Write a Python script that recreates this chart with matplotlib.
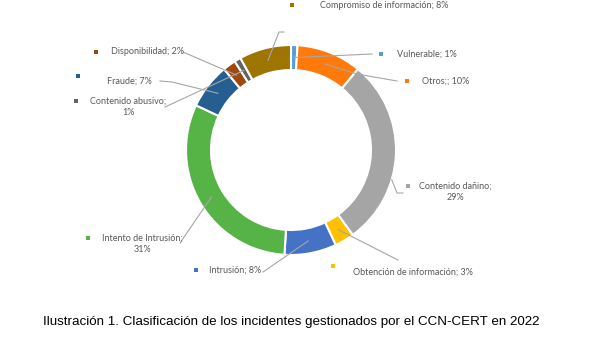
import numpy as np
import matplotlib
matplotlib.use("Agg")
import matplotlib.pyplot as plt

categories = ["Vulnerable", "Otros;", "Contenido dañino", "Obtención de información",
              "Intrusión", "Intento de Intrusión", "Fraude", "Disponibilidad",
              "Contenido abusivo", "Compromiso de información"]
values = [1, 10, 29, 3, 8, 31, 7, 2, 1, 8]
colors = ["#5B9BD5", "#FF7A0A", "#A5A5A5", "#FFC000", "#4472C4",
          "#56B447", "#255E91", "#9E480E", "#636363", "#9E7500"]
title = "Ilustración 1. Clasificación de los incidentes gestionados por el CCN-CERT en 2022"

W, H = 603, 339
fig = plt.figure(figsize=(W / 100, H / 100), dpi=100)
ax = fig.add_axes([0, 0, 1, 1])

cx, cy = 291, H - 150
R, ring = 105, 25
ax.pie(values, colors=colors, startangle=90, counterclock=False,
       center=(cx, cy), radius=R, frame=True,
       wedgeprops=dict(width=ring, edgecolor="white", linewidth=1.5))
ax.set_xlim(0, W)
ax.set_ylim(0, H)
ax.set_aspect("equal")
ax.axis("off")

total = float(sum(values))
starts = np.concatenate([[0], np.cumsum(values)[:-1]])


def anchor(i, frac=0.5, r=R - ring / 2):
    pos = (starts[i] + frac * values[i]) / total
    ang = np.deg2rad(90 - 360 * pos)
    return cx + r * np.cos(ang), cy + r * np.sin(ang)


label_color = "#595959"
lead_color = "#A6A6A6"
fs = 6.5
fam = ["Lato", "DejaVu Sans"]

# label layout: (index, marker x, marker y, text x, text y, ha, two_lines, leader bends, anchor frac, anchor r)
layout = [
    (9, 292, 5, 320, 5, "left", False, [(284, 32), (279, 32)], 0.5, None),
    (0, 381, 54, 397, 54, "left", False, [(372, 54)], 0.5, None),
    (1, 407, 81, 422, 81, "left", False, [(397, 81), (357, 74)], 0.5, None),
    (2, 408, 186, 455, 192, "center", True, [(403, 193), (397, 193)], 0.64, R),
    (3, 333, 266, 353, 272, "left", False, [(398, 260)], 0.5, None),
    (4, 196, 270, 209, 270, "left", False, [(263, 272)], 0.5, None),
    (5, 88, 238, 142, 244, "center", True, [(180, 243)], 0.5, None),
    (6, 78, 76, 107, 81, "left", False, [(160, 81), (172, 82)], 0.5, None),
    (8, 76, 101, 128, 107, "center", True, [(165, 107)], 0.5, None),
    (7, 96, 52, 111, 52, "left", False, [(183, 52)], 0.5, None),
]

for idx, mx, my, tx, ty, ha, two, bends, frac, rr in layout:
    ax_, ay_ = anchor(idx, frac) if rr is None else anchor(idx, frac, rr)
    pts = [(x, H - y) for x, y in bends] + [(ax_, ay_)]
    xs, ys = zip(*pts)
    ax.plot(xs, ys, color=lead_color, lw=0.8, zorder=3)
    ax.scatter([mx], [H - my], marker="s", s=9, color=colors[idx], zorder=4, linewidths=0)
    sep = "\n" if two else " "
    lab = f"{categories[idx]};{sep}{values[idx]}%"
    ax.text(tx, H - ty, lab, ha=ha, va="center", fontsize=fs, color=label_color,
            family=fam, linespacing=1.35, zorder=5)

ax.text(291, H - 322, title, ha="center", va="center", fontsize=9.6,
        family=["Liberation Sans", "DejaVu Sans"], color="black")

fig.savefig("out.png", dpi=100)
